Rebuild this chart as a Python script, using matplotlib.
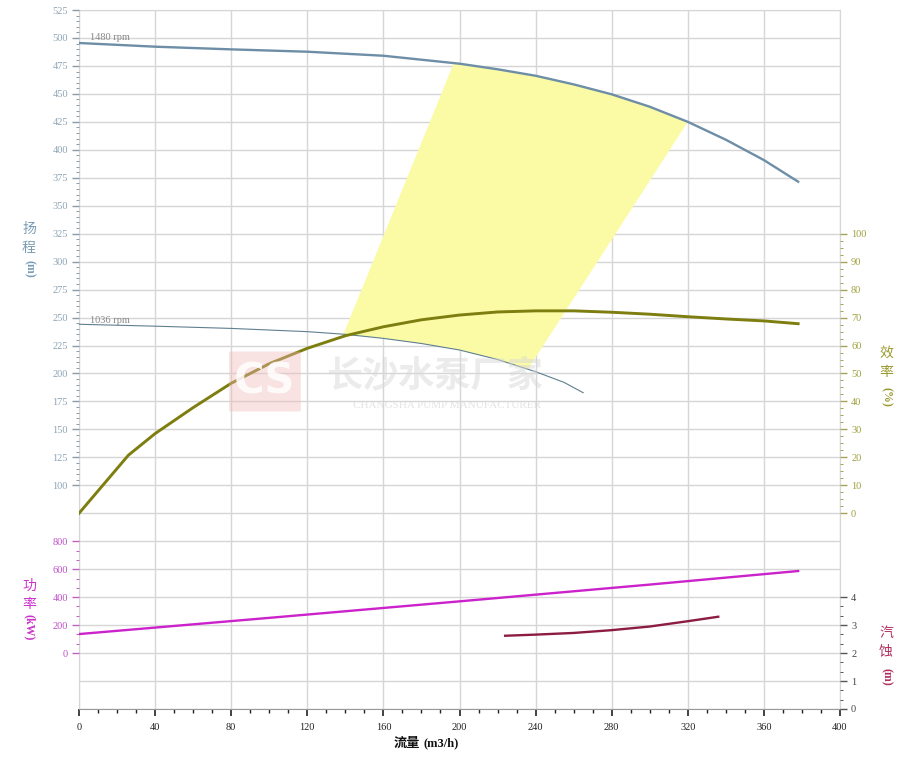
import numpy as np
import matplotlib
matplotlib.use("Agg")
import matplotlib.pyplot as plt
from matplotlib.ticker import FixedLocator, MultipleLocator
from matplotlib.patches import FancyBboxPatch

# ---------------- data ----------------
q_1480 = [0, 40, 80, 120, 160, 200, 220, 240, 260, 280, 300, 320, 340, 360, 378]
h_1480 = [495.5, 492.2, 489.8, 487.7, 484.1, 477.0, 472.0, 466.2, 458.5, 449.6, 438.5, 425.0, 409.0, 390.8, 371.5]

q_1036 = [0, 40, 80, 120, 140, 160, 180, 200, 220, 240, 255, 265]
h_1036 = [244, 242.3, 240.3, 237.4, 235, 231.4, 226.8, 221, 212.5, 201.6, 192, 182.8]

q_eff = [0, 26, 40, 60, 80, 100, 120, 140, 160, 180, 200, 220, 240, 260, 280, 300, 320, 340, 360, 378]
eff = [0, 20.8, 28.5, 37.8, 46.5, 53.5, 59, 63.5, 66.7, 69.2, 70.9, 72.0, 72.4, 72.4, 71.9, 71.2, 70.3, 69.5, 68.8, 67.8]

q_pow = [0, 100, 200, 300, 378]
power = [136, 252, 370, 490, 587]

q_npsh = [224, 240, 260, 280, 300, 320, 336]
npsh = [2.62, 2.66, 2.72, 2.82, 2.95, 3.14, 3.30]

# recommended operating area (flow limits on each speed curve)
area_top_q = [197, 320]
area_bot_q = [139, 236]

head_ticks = list(range(100, 526, 25))
eff_ticks = list(range(0, 101, 10))
pow_ticks = list(range(0, 801, 200))
npsh_ticks = [0, 1, 2, 3, 4]
x_ticks = list(range(0, 401, 40))

# ---------------- figure ----------------
W, H = 901, 767
fig = plt.figure(figsize=(W / 100, H / 100), dpi=100)
L, R, T, B = 79, 840, 10, 709
ax = fig.add_axes([L / W, 1 - B / H, (R - L) / W, (B - T) / H])

serif = "Liberation Serif"
cjk = ["Noto Sans CJK SC", "DejaVu Sans"]

grid_c = "#d6d6d6"
ax.set_xlim(0, 400)
ax.set_ylim(0, 25)
ax.set_yticks(range(0, 26))
ax.tick_params(axis="y", length=0, labelleft=False)
ax.grid(True, color=grid_c, lw=1.0)
ax.set_xticks(x_ticks)
ax.xaxis.set_minor_locator(MultipleLocator(10))
ax.tick_params(axis="x", which="major", length=5, width=1.2, color="#222", pad=5)
ax.tick_params(axis="x", which="minor", length=3, width=1.0, color="#222")
for lab in ax.get_xticklabels():
    lab.set_fontfamily(serif)
    lab.set_fontsize(7.5)
    lab.set_color("#222")
for s in ["left", "right", "top"]:
    ax.spines[s].set_color(grid_c)
ax.spines["bottom"].set_color("#999")
ax.set_zorder(0)

def mk_twin(side, lim, ticks, minor, tcolor, lcolor):
    a = ax.twinx()
    a.set_ylim(*lim)
    if side == "left":
        a.yaxis.tick_left()
    else:
        a.yaxis.tick_right()
    a.yaxis.set_major_locator(FixedLocator(ticks))
    a.yaxis.set_minor_locator(FixedLocator(minor))
    a.tick_params(axis="y", which="major", length=5, width=1.0, color=tcolor,
                  labelcolor=lcolor, labelsize=7.5, pad=3)
    a.tick_params(axis="y", which="minor", length=2.5, width=0.7, color=tcolor)
    for lab in a.get_yticklabels():
        lab.set_fontfamily(serif)
    for s in a.spines.values():
        s.set_visible(False)
    a.patch.set_visible(False)
    return a

ax_h = mk_twin("left", (-100, 525), head_ticks, list(np.arange(100, 526, 5)), "#8a9aa6", "#8ea4b4")
ax_e = mk_twin("right", (-70, 180), eff_ticks, list(np.arange(0, 101, 2.5)), "#a4a45a", "#a0a040")
ax_p = mk_twin("left", (-400, 4600), pow_ticks, list(np.arange(0, 801, 200 / 3)), "#c060c0", "#c050c8")
ax_n = mk_twin("right", (0, 25), npsh_ticks, list(np.arange(0, 4.01, 1 / 3)), "#555", "#444")

# operating area
top_q = np.linspace(area_top_q[0], area_top_q[1], 40)
bot_q = np.linspace(area_bot_q[1], area_bot_q[0], 40)
poly_q = np.concatenate([top_q, bot_q])
poly_h = np.concatenate([np.interp(top_q, q_1480, h_1480), np.interp(bot_q, q_1036, h_1036)])
ax_h.fill(poly_q, poly_h, color="#fbfba6", lw=0, zorder=1)

ax_h.plot(q_1480, h_1480, color="#6d8ea6", lw=1.7, zorder=3)
ax_h.plot(q_1036, h_1036, color="#5f7f90", lw=0.8, zorder=3)
ax_h.text(6, 500, "1480 rpm", fontfamily=serif, fontsize=7.5, color="#888", va="center")
ax_h.text(6, 247, "1036 rpm", fontfamily=serif, fontsize=7.5, color="#888", va="center")

ax_e.plot(q_eff, eff, color="#7d7d10", lw=2.1, zorder=3)
ax_p.plot(q_pow, power, color="#cc22cc", lw=1.7, zorder=3)
ax_n.plot(q_npsh, npsh, color="#8c1c40", lw=1.7, zorder=3)

# axis titles
def vlabel(x, y_chars, chars, unit_y, unit, color):
    for yy, ch in zip(y_chars, chars):
        fig.text(x / W, 1 - yy / H, ch, family=cjk, fontsize=10, color=color,
                 ha="center", va="center")
    fig.text(x / W, 1 - unit_y / H, unit, family=serif, fontsize=8.5, color=color,
             ha="center", va="center", rotation=-90, fontweight="bold")

vlabel(29, [229, 248], ["扬", "程"], 269, "(m)", "#7a9cb5")
vlabel(29, [586, 604], ["功", "率"], 627, "(kW)", "#cc33cc")
vlabel(886, [353, 372], ["效", "率"], 397, "(%)", "#9a9a30")
vlabel(886, [633, 651], ["汽", "蚀"], 677, "(m)", "#b03060")

fig.text(420 / W, 1 - 743 / H, "流量", family=cjk, fontsize=9.5, color="#111",
         ha="right", va="center", fontweight="bold")
fig.text(423 / W, 1 - 743 / H, "(m3/h)", family=serif, fontsize=9, color="#111",
         ha="left", va="center", fontweight="bold")

# watermark
box = FancyBboxPatch((231 / W, 1 - 410 / H), 68 / W, 57 / H,
                     boxstyle="round,pad=0.002", transform=fig.transFigure,
                     facecolor="#f2b8b8", edgecolor="none", alpha=0.4, zorder=5)
fig.patches.append(box)
fig.text(265 / W, 1 - 382 / H, "CS", fontsize=30, fontweight="bold", color="white",
         ha="center", va="center", alpha=0.85, zorder=6, family="DejaVu Sans")
fig.text(435 / W, 1 - 376 / H, "长沙水泵厂家", family=cjk, fontsize=26, fontweight="bold",
         color="#d8d8d8", alpha=0.5, ha="center", va="center", zorder=6)
fig.text(447 / W, 1 - 406 / H, "CHANGSHA PUMP MANUFACTURER", family=serif, fontsize=8,
         color="#d8d8d8", alpha=0.7, ha="center", va="center", zorder=6)

fig.savefig("out.png", dpi=100)
